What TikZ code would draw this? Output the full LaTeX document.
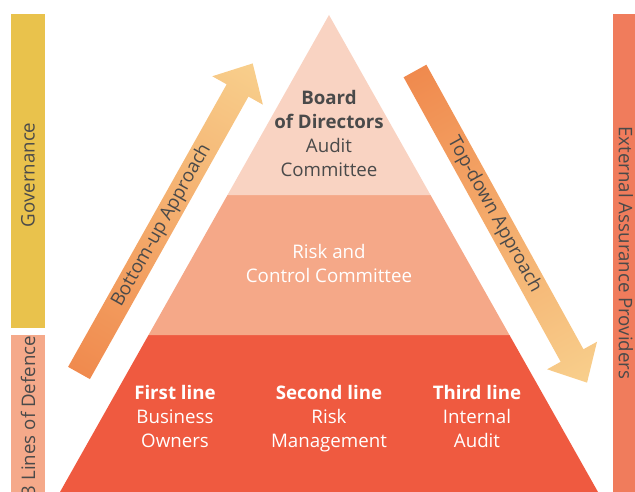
\documentclass[tikz,border=0pt]{standalone}
\usepackage{fontspec}
\setmainfont{Open Sans}
\usetikzlibrary{calc}
\definecolor{govyellow}{HTML}{E9C24C}
\definecolor{defsalmon}{HTML}{F5A98A}
\definecolor{extcoral}{HTML}{F07C5C}
\definecolor{tiertop}{HTML}{F9D3C2}
\definecolor{tiermid}{HTML}{F5A888}
\definecolor{tierlow}{HTML}{EF5A40}
\definecolor{arrowdeep}{HTML}{F08A4E}
\definecolor{arrowpale}{HTML}{F8CF8C}
\definecolor{inkgray}{HTML}{4A4A4A}

\begin{document}
\begin{tikzpicture}[x=1pt, y=1pt,
				bartext/.style={
				% The font:
				font=\fontsize{18.7}{22}\selectfont,
				text=inkgray
				},
				tiertext/.style={
				% The shape:
				align=center,
				text depth=0pt,
				% The font:
				font=\fontsize{18.7}{24}\selectfont
				},
				approach/.style={
				% The filling:
				left color=arrowdeep,
				right color=arrowpale
				},
				]
    \useasboundingbox (0,0) rectangle (635,492);
    % side bars
    \fill[govyellow] (11,164) rectangle (45,478);
    \fill[defsalmon] (11,0) rectangle (45,157);
    \fill[extcoral] (613,0) rectangle (635,478);
    \node[bartext, rotate=90] (gov) at (28,317) {Governance};
    \node[bartext, rotate=90] (lod) at (28,76) {3 Lines of Defence};
    \node[bartext, rotate=-90] (ext) at (626,239) {External Assurance Providers};
    % pyramid
    \coordinate (apex) at (329,477);
    \coordinate (bl) at (60,0);
    \coordinate (br) at (598,0);
    \coordinate (ml) at ($(apex)!0.6709!(bl)$);
    \coordinate (mr) at ($(apex)!0.6709!(br)$);
    \coordinate (tl) at ($(apex)!0.3774!(bl)$);
    \coordinate (tr) at ($(apex)!0.3774!(br)$);
    \fill[tierlow] (bl) -- (br) -- (mr) -- (ml) -- cycle;
    \fill[tiermid] (ml) -- (mr) -- (tr) -- (tl) -- cycle;
    \fill[tiertop] (tl) -- (tr) -- (apex) -- cycle;
    \node[tiertext, text=inkgray] (board) at (329,359) {\textbf{Board}\\\textbf{of Directors}\\Audit\\Committee};
    \node[tiertext, text=white] (risk) at (329,229) {Risk and\\Control Committee};
    \node[tiertext, text=white] (first) at (175,76) {\textbf{First line}\\Business\\Owners};
    \node[tiertext, text=white] (second) at (329,76) {\textbf{Second line}\\Risk\\Management};
    \node[tiertext, text=white] (third) at (477,76) {\textbf{Third line}\\Internal\\Audit};
    % approaches
    \begin{scope}[transform canvas={shift={(79,119)}, rotate=60.7}]
      \shade[approach] (0,-12.5) -- (324,-12.5) -- (324,-29) -- (355,0) -- (324,29) -- (324,12.5) -- (0,12.5) -- cycle;
      \node[bartext] (up) at (169,0) {Bottom-up Approach};
    \end{scope}
    \begin{scope}[transform canvas={shift={(415,421)}, rotate=-61.1}]
      \shade[approach] (0,-13) -- (325,-13) -- (325,-28.5) -- (356,0) -- (325,28.5) -- (325,13) -- (0,13) -- cycle;
      \node[bartext] (down) at (164,0) {Top-down Approach};
    \end{scope}
\end{tikzpicture}
\end{document}
